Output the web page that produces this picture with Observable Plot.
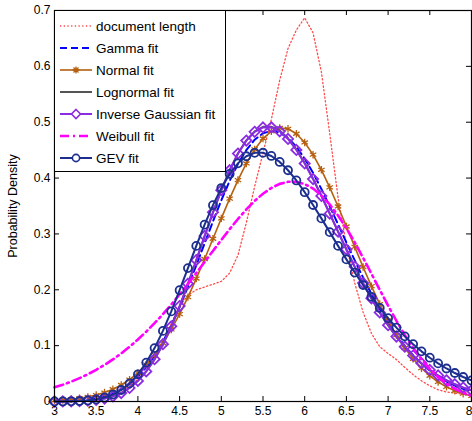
<!DOCTYPE html>
<html><head><meta charset="utf-8">
<script src="https://cdn.jsdelivr.net/npm/d3@7"></script>
<script src="https://cdn.jsdelivr.net/npm/@observablehq/plot@0.6"></script>
<style>
html,body{margin:0;padding:0;background:#fff;}
#wrap{position:relative;width:472px;height:421px;overflow:hidden;}
#legend{position:absolute;left:54px;top:10px;width:172px;height:162px;box-sizing:border-box;border:1px solid #000;background:#fff;padding-top:4px;font-family:Arial,"Liberation Sans",Helvetica,sans-serif;font-size:13.5px;color:#000;}
.row{height:22px;display:flex;align-items:center;white-space:nowrap;}
.row svg{width:40px;height:22px;flex:none;}
</style></head><body>
<div id="wrap"><div id="chart"></div><div id="legend"></div></div>
<script>
const xs = [3.0,3.1,3.2,3.3,3.4,3.5,3.6,3.7,3.8,3.9,4.0,4.1,4.2,4.3,4.4,4.5,4.6,4.7,4.8,4.9,5.0,5.1,5.2,5.3,5.4,5.5,5.6,5.7,5.8,5.9,6.0,6.1,6.2,6.3,6.4,6.5,6.6,6.7,6.8,6.9,7.0,7.1,7.2,7.3,7.4,7.5,7.6,7.7,7.8,7.9,8.0];

const documentLength = [0.001,0.002,0.003,0.004,0.006,0.008,0.011,0.015,0.020,0.028,0.040,0.055,0.075,0.105,0.140,0.170,0.190,0.200,0.205,0.210,0.215,0.230,0.262,0.320,0.385,0.445,0.505,0.575,0.632,0.665,0.687,0.660,0.590,0.480,0.365,0.280,0.212,0.160,0.122,0.098,0.086,0.075,0.061,0.048,0.037,0.028,0.021,0.017,0.015,0.013,0.012];

const gammaFit = [0.0003,0.0006,0.0011,0.0019,0.0034,0.0056,0.0091,0.0143,0.0215,0.0314,0.0445,0.0613,0.0821,0.1071,0.1363,0.1692,0.2053,0.2437,0.2831,0.3225,0.3601,0.3950,0.4254,0.4500,0.4687,0.4802,0.4845,0.4814,0.4718,0.4560,0.4348,0.4093,0.3805,0.3494,0.3172,0.2846,0.2526,0.2219,0.1928,0.1658,0.1413,0.1193,0.0997,0.0827,0.0679,0.0553,0.0447,0.0358,0.0285,0.0225,0.0176];

const normalFit = [0.0018,0.0027,0.0039,0.0057,0.0082,0.0115,0.0160,0.0219,0.0295,0.0391,0.0512,0.0660,0.0838,0.1047,0.1290,0.1565,0.1869,0.2201,0.2551,0.2914,0.3278,0.3632,0.3964,0.4262,0.4513,0.4708,0.4838,0.4897,0.4882,0.4794,0.4638,0.4419,0.4148,0.3834,0.3492,0.3133,0.2768,0.2409,0.2065,0.1744,0.1451,0.1189,0.0959,0.0763,0.0597,0.0461,0.0350,0.0262,0.0193,0.0140,0.0100];

const lognormalFit = [0.0001,0.0001,0.0003,0.0007,0.0015,0.0029,0.0054,0.0093,0.0154,0.0244,0.0370,0.0538,0.0754,0.1021,0.1337,0.1700,0.2099,0.2522,0.2955,0.3380,0.3780,0.4139,0.4441,0.4676,0.4837,0.4918,0.4921,0.4850,0.4712,0.4515,0.4271,0.3990,0.3685,0.3365,0.3041,0.2720,0.2410,0.2115,0.1841,0.1589,0.1361,0.1156,0.0976,0.0818,0.0681,0.0563,0.0463,0.0379,0.0308,0.0249,0.0201];

const invGaussFit = [0.0000,0.0001,0.0003,0.0007,0.0014,0.0028,0.0052,0.0091,0.0152,0.0242,0.0369,0.0539,0.0757,0.1026,0.1345,0.1709,0.2109,0.2533,0.2964,0.3388,0.3784,0.4140,0.4439,0.4671,0.4828,0.4907,0.4908,0.4837,0.4700,0.4504,0.4261,0.3983,0.3680,0.3363,0.3041,0.2722,0.2413,0.2120,0.1847,0.1595,0.1366,0.1162,0.0981,0.0822,0.0685,0.0566,0.0466,0.0380,0.0309,0.0250,0.0201];

const weibullFit = [0.0254,0.0301,0.0356,0.0418,0.0488,0.0567,0.0655,0.0753,0.0861,0.0980,0.1110,0.1251,0.1402,0.1564,0.1736,0.1916,0.2105,0.2299,0.2497,0.2696,0.2893,0.3085,0.3268,0.3438,0.3591,0.3720,0.3823,0.3896,0.3933,0.3933,0.3893,0.3812,0.3690,0.3528,0.3331,0.3102,0.2847,0.2573,0.2288,0.2000,0.1716,0.1444,0.1190,0.0961,0.0758,0.0583,0.0438,0.0320,0.0227,0.0156,0.0104];

const gevFit = [0.0001,0.0001,0.0004,0.0009,0.0019,0.0038,0.0071,0.0124,0.0206,0.0324,0.0486,0.0696,0.0956,0.1264,0.1613,0.1993,0.2388,0.2786,0.3166,0.3515,0.3821,0.4074,0.4264,0.4391,0.4452,0.4453,0.4396,0.4289,0.4140,0.3957,0.3747,0.3518,0.3278,0.3032,0.2786,0.2544,0.2309,0.2085,0.1874,0.1675,0.1491,0.1322,0.1166,0.1026,0.0898,0.0784,0.0682,0.0591,0.0510,0.0439,0.0377];

const seriesNames = ["document length","Gamma fit","Normal fit","Lognormal fit","Inverse Gaussian fit","Weibull fit","GEV fit"];
const xTicks = [3, 3.5, 4, 4.5, 5, 5.5, 6, 6.5, 7, 7.5, 8];
const xTickLabels = ["3","3.5","4","4.5","5","5.5","6","6.5","7","7.5","8"];
const yTicks = [0, 0.1, 0.2, 0.3, 0.4, 0.5, 0.6, 0.7];
const yTickLabels = ["0","0.1","0.2","0.3","0.4","0.5","0.6","0.7"];
const yLabel = "Probability Density";

const C = {doc:"#ff4a4a", gamma:"#0000ff", normal:"#b5600f", logn:"#555555", ig:"#8b2be2", weib:"#ff00ff", gev:"#1c2f8f"};
const F = "Arial, 'Liberation Sans', Helvetica, sans-serif";
const rows = ys => xs.map((x, i) => ({x, y: ys[i]}));
const lastX = xTicks[xTicks.length - 1];
const fmtX = d => xTickLabels[xTicks.indexOf(d)];

const chart = Plot.plot({
  width: 472, height: 421,
  marginLeft: 54, marginRight: 1, marginTop: 10, marginBottom: 20,
  style: {fontFamily: F, fontSize: "12px", background: "#fff", color: "#000"},
  x: {domain: [3, 8]},
  y: {domain: [0, 0.7]},
  marks: [
    Plot.line(rows(documentLength), {x: "x", y: "y", stroke: C.doc, strokeWidth: 1.3, strokeDasharray: "1.3,2.4"}),
    Plot.line(rows(gammaFit), {x: "x", y: "y", stroke: C.gamma, strokeWidth: 2, strokeDasharray: "7,4"}),
    Plot.line(rows(normalFit), {x: "x", y: "y", stroke: C.normal, strokeWidth: 1.6}),
    Plot.dot(rows(normalFit), {x: "x", y: "y", symbol: "asterisk", r: 3.5, stroke: C.normal, strokeWidth: 1.3}),
    Plot.line(rows(lognormalFit), {x: "x", y: "y", stroke: C.logn, strokeWidth: 2}),
    Plot.line(rows(invGaussFit), {x: "x", y: "y", stroke: C.ig, strokeWidth: 2}),
    Plot.dot(rows(invGaussFit), {x: "x", y: "y", symbol: "diamond2", r: 4.6, stroke: C.ig, fill: "none", strokeWidth: 1.8}),
    Plot.line(rows(weibullFit), {x: "x", y: "y", stroke: C.weib, strokeWidth: 2.6, strokeDasharray: "9,4,2,4"}),
    Plot.line(rows(gevFit), {x: "x", y: "y", stroke: C.gev, strokeWidth: 2}),
    Plot.dot(rows(gevFit), {x: "x", y: "y", symbol: "circle", r: 4, stroke: C.gev, fill: "none", strokeWidth: 1.8}),
    Plot.frame({stroke: "#000", strokeWidth: 1.2}),
    Plot.ruleX(xTicks, {x: d => d, insetTop: 386, stroke: "#000"}),
    Plot.ruleX(xTicks, {x: d => d, insetBottom: 386, stroke: "#000"}),
    Plot.ruleY(yTicks, {y: d => d, insetLeft: 412, stroke: "#000"}),
    Plot.ruleY(yTicks, {y: d => d, insetRight: 412, stroke: "#000"}),
    Plot.axisX(xTicks.filter(d => d !== lastX), {tickSize: 0, tickPadding: 5, label: null, fontSize: 12, tickFormat: fmtX}),
    Plot.axisX([lastX], {tickSize: 0, tickPadding: 5, label: null, fontSize: 12, tickFormat: fmtX, textAnchor: "end", dx: 1}),
    Plot.axisY(yTicks, {tickSize: 0, tickPadding: 4, label: null, fontSize: 12, tickFormat: d => yTickLabels[yTicks.indexOf(d)]}),
    Plot.text([yLabel], {frameAnchor: "left", rotate: -90, dx: -42, textAnchor: "middle", fontSize: 12.5, fill: "#000"})
  ]
});
document.getElementById("chart").appendChild(chart);

// legend
const styles = [
  {c: C.doc, w: 1.3, dash: "1.3,2.4", m: null},
  {c: C.gamma, w: 2, dash: "7,4", m: null},
  {c: C.normal, w: 1.6, dash: null, m: "asterisk"},
  {c: C.logn, w: 2, dash: null, m: null},
  {c: C.ig, w: 2, dash: null, m: "diamond"},
  {c: C.weib, w: 2.6, dash: "9,4,2,4", m: null},
  {c: C.gev, w: 2, dash: null, m: "circle"}
];
const leg = document.getElementById("legend");
seriesNames.forEach((name, i) => {
  const s = styles[i];
  let marker = "";
  if (s.m === "asterisk") marker = `<path d="M17.5,11h7M21,7.5v7M18.5,8.5l5,5M23.5,8.5l-5,5" stroke="${s.c}" stroke-width="1.3"/>`;
  if (s.m === "diamond") marker = `<path d="M21,6.5l4.5,4.5l-4.5,4.5l-4.5,-4.5z" fill="#fff" stroke="${s.c}" stroke-width="1.6"/>`;
  if (s.m === "circle") marker = `<circle cx="21" cy="11" r="3.6" fill="#fff" stroke="${s.c}" stroke-width="1.6"/>`;
  const row = document.createElement("div");
  row.className = "row";
  row.innerHTML = `<svg viewBox="0 0 40 22"><line x1="5" x2="37" y1="11" y2="11" stroke="${s.c}" stroke-width="${s.w}" ${s.dash ? `stroke-dasharray="${s.dash}"` : ""}/>${marker}</svg><span style="margin-left:1px">${name}</span>`;
  leg.appendChild(row);
});
</script>
</body></html>
